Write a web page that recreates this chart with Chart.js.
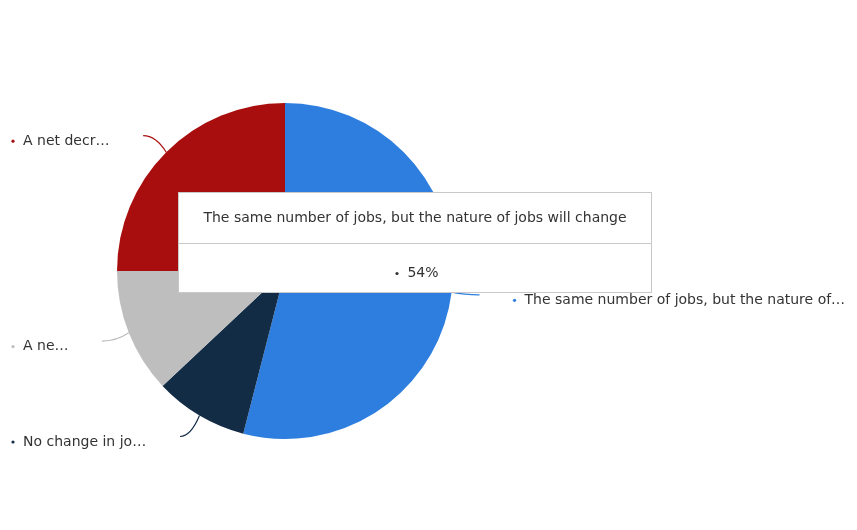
<!DOCTYPE html>
<html>
<head>
<meta charset="utf-8">
<script src="https://cdn.jsdelivr.net/npm/chart.js@4"></script>
<style>
  html, body { margin: 0; padding: 0; background: #fff; }
  #wrap { width: 857px; height: 530px; }
</style>
</head>
<body>
<div id="wrap"><canvas id="pieChart" width="857" height="530"></canvas></div>
<script>
// dati del grafico
const categorie = [
    "The same number of jobs, but the nature of jobs will change",
    "No change in jobs or in the nature of jobs",
    "A net increase in the number of jobs",
    "A net decrease in the number of jobs"
];
const valori = [54, 9, 12, 25];
const colori = ["#2d7ede", "#132c46", "#bebebe", "#a90e0e"];
const indiceTooltip = 0;

const FONT = '14px "DejaVu Sans", Verdana, sans-serif';

function tronca(ctx, testo, maxW) {
    if (ctx.measureText(testo).width <= maxW) return testo;
    let t = testo;
    while (t.length > 1 && ctx.measureText(t + "…").width > maxW) t = t.slice(0, -1);
    return t.trimEnd() + "…";
}

// etichette con linee di richiamo
const etichettePlugin = {
    id: "etichette",
    afterDatasetsDraw(chart) {
        const ctx = chart.ctx;
        const meta = chart.getDatasetMeta(0);
        ctx.save();
        ctx.font = FONT;
        meta.data.forEach((arc, i) => {
            const p = arc.getProps(["x", "y", "startAngle", "endAngle", "outerRadius"], true);
            const mid = (p.startAngle + p.endAngle) / 2;
            const sx = p.x + Math.cos(mid) * p.outerRadius, sy = p.y + Math.sin(mid) * p.outerRadius;
            // l'estremo della linea viene tirato un po' verso l'orizzontale
            let a = Math.atan2(Math.sin(mid), Math.cos(mid));
            const obiettivo = Math.cos(mid) > 0 ? 0 : (a > 0 ? Math.PI : -Math.PI);
            a = a + (obiettivo - a) * 0.03;
            const R = p.outerRadius + 28;
            const ex = p.x + Math.cos(a) * R, ey = p.y + Math.sin(a) * R;
            const cx = sx + (ex - sx) * 0.45, cy = ey;
            ctx.strokeStyle = colori[i];
            ctx.lineWidth = 1.2;
            ctx.beginPath();
            ctx.moveTo(sx, sy);
            ctx.quadraticCurveTo(cx, cy, ex, ey);
            ctx.stroke();

            const destra = Math.cos(mid) > 0;
            const bx = destra ? ex + 35 : 13;
            const tx = bx + 10;
            const ty = ey + 5.5;
            const maxW = destra ? chart.width - 10 - tx : ex - 33 - tx;
            ctx.fillStyle = colori[i];
            ctx.beginPath();
            ctx.arc(bx, ty, 1.6, 0, Math.PI * 2);
            ctx.fill();
            ctx.fillStyle = "#333";
            ctx.textBaseline = "middle";
            ctx.textAlign = "left";
            ctx.fillText(tronca(ctx, categorie[i], maxW), tx, ty);
        });
        ctx.restore();
    }
};

// tooltip fisso come nello screenshot
const tooltipPlugin = {
    id: "tooltipFisso",
    afterDraw(chart) {
        const ctx = chart.ctx;
        const titolo = categorie[indiceTooltip];
        const valore = valori[indiceTooltip] + "%";
        ctx.save();
        ctx.font = FONT;
        const w = 473, h = 100;
        const x = 178.5, y = 192.5;
        ctx.fillStyle = "#fff";
        ctx.fillRect(x, y, w, h);
        ctx.strokeStyle = "#c8c8c8";
        ctx.lineWidth = 1;
        ctx.strokeRect(x, y, w, h);
        ctx.beginPath();
        ctx.moveTo(x, y + 51);
        ctx.lineTo(x + w, y + 51);
        ctx.stroke();
        ctx.fillStyle = "#333";
        ctx.textAlign = "center";
        ctx.textBaseline = "middle";
        ctx.fillText(titolo, x + w / 2, y + 26);
        ctx.fillText(valore, x + w / 2 + 8, y + 81);
        ctx.beginPath();
        ctx.arc(x + w / 2 - 18, y + 81, 1.6, 0, Math.PI * 2);
        ctx.fill();
        ctx.restore();
    }
};

new Chart(document.getElementById("pieChart"), {
    type: "pie",
    data: {
        labels: categorie,
        datasets: [{
            data: valori,
            backgroundColor: colori,
            borderWidth: 0,
            hoverOffset: 0
        }]
    },
    options: {
        responsive: false,
        animation: false,
        layout: { padding: { left: 117, right: 404, top: 103, bottom: 91 } },
        plugins: {
            legend: { display: false },
            tooltip: { enabled: false }
        }
    },
    plugins: [etichettePlugin, tooltipPlugin]
});
</script>
</body>
</html>
